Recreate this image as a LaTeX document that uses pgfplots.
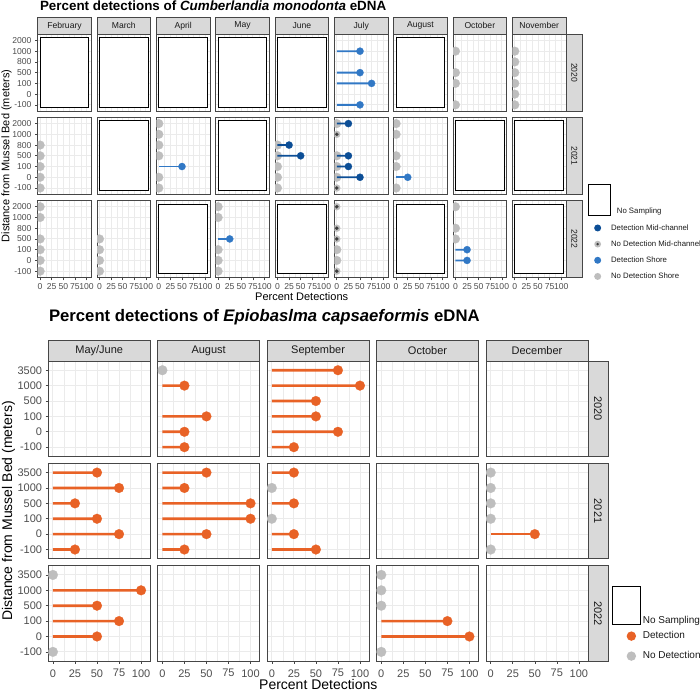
\documentclass[border=0pt]{standalone}
\usepackage{pgfplots}
\pgfplotsset{compat=1.18}
\usepackage{fontspec}
\setmainfont{Liberation Sans}
\definecolor{detS}{RGB}{49,120,197}
\definecolor{detM}{RGB}{12,78,150}
\definecolor{org}{RGB}{232,98,38}
\definecolor{ndg}{RGB}{190,190,190}
\definecolor{ndk}{RGB}{60,60,60}
\definecolor{gridc}{RGB}{235,235,235}
\definecolor{brd}{RGB}{70,70,70}
\definecolor{stripc}{RGB}{217,217,217}
\definecolor{tickc}{RGB}{77,77,77}
\definecolor{txt}{RGB}{26,26,26}

\pgfplotsset{
 facet/.style={scale only axis, anchor=north west, xmin=-5.25, xmax=110.25,
   xtick={0,25,50,75,100}, minor x tick num=1, grid=both,
   major grid style={gridc, line width=0.9pt}, minor grid style={gridc, line width=0.45pt},
   axis line style={brd, line width=0.8pt}, tick align=outside, xtick pos=bottom, ytick pos=left,
   major tick length=2.7pt, minor tick length=0pt, tick style={brd, line width=0.6pt},
   xticklabels={}, yticklabels={}, xtick style={draw=none}, ytick style={draw=none},
   tick label style={text=tickc}, /pgf/number format/assume math mode=true, clip marker paths=true},
 topax/.style={facet, width=53.6pt, height=77.3pt, ymin=0.4, ymax=7.6, ytick={1,...,7},
   tick label style={font=\fontsize{8.6}{9}\selectfont}},
 botax/.style={facet, width=101.8pt, height=95.4pt, ymin=0.4, ymax=6.6, ytick={1,...,6},
   tick label style={font=\fontsize{11}{12}\selectfont}, xticklabel style={yshift=-2pt}},
 tlx/.style={xticklabels={0,25,50,75,100}, xtick style={draw=brd}},
 tly/.style={yticklabels={-100,0,100,500,800,1000,2000}, ytick style={draw=brd}},
 blx/.style={xticklabels={0,25,50,75,100}, xtick style={draw=brd}},
 bly/.style={yticklabels={-100,0,100,500,1000,3500}, ytick style={draw=brd}},
 nds/.style={only marks, mark=*, mark size=4.4pt, ndg, mark options={line width=0.2pt}},
 ndmA/.style={only marks, mark=*, mark size=3.5pt, ndg, mark options={line width=0.2pt}},
 ndmB/.style={only marks, mark=*, mark size=1.7pt, ndk, mark options={line width=0.2pt}},
 stemT/.style={xbar, bar width=1.8pt, bar shift=0pt, draw=none, fill=#1, mark=none},
 stemB/.style={xbar, bar width=2.6pt, bar shift=0pt, draw=none, fill=#1, mark=none},
 dotT/.style={only marks, mark=*, mark size=3.6pt, #1, mark options={line width=0.2pt}},
 dotB/.style={only marks, mark=*, mark size=4.9pt, #1, mark options={line width=0.2pt}},
 ond/.style={only marks, mark=*, mark size=4.9pt, ndg, mark options={line width=0.2pt}},
}
% lollipops: stem (bar from 0) + dot, both from the same coordinates
\newcommand{\LT}[2]{\addplot[stemT=#1] coordinates {#2}; \addplot[dotT=#1] coordinates {#2};}
\newcommand{\LB}[1]{\addplot[stemB=org] coordinates {#1}; \addplot[dotB=org] coordinates {#1};}
\newcommand{\NS}{\draw[black, line width=0.9pt, fill=white] (axis cs:0,0.75) rectangle (axis cs:105,7.25);}
\newcommand{\TP}[4]{%
 \pgfmathsetmacro{\px}{37.7+#1*59.33}%
 \pgfmathsetmacro{\py}{657-#2*83.15}%
 \begin{axis}[topax, at={(\px pt,\py pt)}, #3]#4\end{axis}}
\newcommand{\BP}[4]{%
 \pgfmathsetmacro{\px}{48.3+#1*109.45}%
 \pgfmathsetmacro{\py}{330-#2*102.35}%
 \begin{axis}[botax, at={(\px pt,\py pt)}, #3]#4\end{axis}}

\begin{document}
\begin{tikzpicture}
\useasboundingbox (0,0) rectangle (700pt,691pt);

% ---------------- Top chart ----------------
\node[anchor=base west, font=\bfseries\fontsize{13.4}{15}\selectfont, text=black] at (36.5pt,680.7pt)
  {Percent detections of \textit{Cumberlandia monodonta} eDNA};

% Row 2020
\TP{0}{0}{tly}{\NS}
\TP{1}{0}{}{\NS}
\TP{2}{0}{}{\NS}
\TP{3}{0}{}{\NS}
\TP{4}{0}{}{\NS}
\TP{5}{0}{}{\LT{detS}{(50,6)(50,4)(75,3)(50,1)}}
\TP{6}{0}{}{\NS}
\TP{7}{0}{}{\addplot[nds] coordinates {(0,6)(0,4)(0,3)(0,1)};}
\TP{8}{0}{}{\addplot[nds] coordinates {(0,6)(0,5)(0,4)(0,3)(0,2)(0,1)};}
% Row 2021
\TP{0}{1}{tly}{\addplot[nds] coordinates {(0,5)(0,4)(0,3)(0,2)(0,1)};}
\TP{1}{1}{}{\NS}
\TP{2}{1}{}{\addplot[nds] coordinates {(0,7)(0,6)(0,5)(0,4)(0,2)(0,1)}; \LT{detS}{(50,3)}}
\TP{3}{1}{}{\NS}
\TP{4}{1}{}{\addplot[nds] coordinates {(0,5)(0,4)(0,3)(0,2)(0,1)}; \LT{detM}{(25,5)(50,4)}}
\TP{5}{1}{}{\addplot[nds] coordinates {(0,7)(0,4)(0,3)(0,2)}; \addplot[ndmA] coordinates {(0,6)(0,1)}; \addplot[ndmB] coordinates {(0,6)(0,1)}; \LT{detM}{(25,7)(25,4)(25,3)(50,2)}}
\TP{6}{1}{}{\addplot[nds] coordinates {(0,7)(0,6)(0,4)(0,3)(0,1)}; \LT{detS}{(25,2)}}
\TP{7}{1}{}{\NS}
\TP{8}{1}{}{\NS}
% Row 2022
\TP{0}{2}{tly,tlx}{\addplot[nds] coordinates {(0,7)(0,6)(0,4)(0,3)(0,2)(0,1)};}
\TP{1}{2}{tlx}{\addplot[nds] coordinates {(0,4)(0,3)(0,2)(0,1)};}
\TP{2}{2}{tlx}{\NS}
\TP{3}{2}{tlx}{\addplot[nds] coordinates {(0,7)(0,6)(0,3)(0,2)(0,1)}; \LT{detS}{(25,4)}}
\TP{4}{2}{tlx}{\NS}
\TP{5}{2}{tlx}{\addplot[nds] coordinates {(0,3)(0,2)}; \addplot[ndmA] coordinates {(0,7)(0,5)(0,4)(0,1)}; \addplot[ndmB] coordinates {(0,7)(0,5)(0,4)(0,1)};}
\TP{6}{2}{tlx}{\NS}
\TP{7}{2}{tlx}{\addplot[nds] coordinates {(0,7)(0,5)(0,4)}; \LT{detS}{(25,3)(25,2)}}
\TP{8}{2}{tlx}{\NS}

% top strips
\foreach \i/\n in {0/February,1/March,2/April,3/May,4/June,5/July,6/August,7/October,8/November}{
  \pgfmathsetmacro{\sx}{37.7+\i*59.33}
  \draw[brd, fill=stripc, line width=0.8pt] (\sx pt,657pt) rectangle ++(53.6pt,16.3pt);
  \node[font=\fontsize{8.6}{9}\selectfont, text=txt] at ({\sx pt+26.8pt},665.15pt) {\n};
}
\foreach \r/\n in {0/2020,1/2021,2/2022}{
  \pgfmathsetmacro{\sy}{657-\r*83.15}
  \draw[brd, fill=stripc, line width=0.8pt] (565.9pt,\sy pt) rectangle ++(16.8pt,-77.3pt);
  \node[rotate=-90, font=\fontsize{8.6}{9}\selectfont, text=txt] at (574.3pt,{\sy pt-38.65pt}) {\n};
}
\node[font=\fontsize{11}{12}\selectfont, text=black] at (301.7pt,394pt) {Percent Detections};
\node[rotate=90, font=\fontsize{11}{12}\selectfont, text=black] at (6.5pt,535pt) {Distance from Mussel Bed (meters)};

% ---------------- Bottom chart ----------------
\node[anchor=base west, font=\bfseries\fontsize{16.7}{19}\selectfont, text=black] at (45.5pt,369.3pt)
  {Percent detections of \textit{Epiobaslma capsaeformis} eDNA};

\BP{0}{0}{bly}{}
\BP{1}{0}{}{\addplot[ond] coordinates {(0,6)}; \LB{(25,5)(50,3)(25,2)(25,1)}}
\BP{2}{0}{}{\LB{(75,6)(100,5)(50,4)(50,3)(75,2)(25,1)}}
\BP{3}{0}{}{}
\BP{4}{0}{}{}
\BP{0}{1}{bly}{\LB{(50,6)(75,5)(25,4)(50,3)(75,2)(25,1)}}
\BP{1}{1}{}{\LB{(50,6)(25,5)(100,4)(100,3)(50,2)(25,1)}}
\BP{2}{1}{}{\addplot[ond] coordinates {(0,5)(0,3)}; \LB{(25,6)(25,4)(25,2)(50,1)}}
\BP{3}{1}{}{}
\BP{4}{1}{}{\addplot[ond] coordinates {(0,6)(0,5)(0,4)(0,3)(0,1)}; \LB{(50,2)}}
\BP{0}{2}{bly,blx}{\addplot[ond] coordinates {(0,6)(0,1)}; \LB{(100,5)(50,4)(75,3)(50,2)}}
\BP{1}{2}{blx}{}
\BP{2}{2}{blx}{}
\BP{3}{2}{blx}{\addplot[ond] coordinates {(0,6)(0,5)(0,4)(0,1)}; \LB{(75,3)(100,2)}}
\BP{4}{2}{blx}{}

\foreach \i/\n in {0/May\slash June,1/August,2/September,3/October,4/December}{
  \pgfmathsetmacro{\sx}{48.3+\i*109.45}
  \draw[brd, fill=stripc, line width=0.8pt] (\sx pt,330pt) rectangle ++(101.8pt,21pt);
  \node[font=\fontsize{11}{12}\selectfont, text=txt] at ({\sx pt+50.9pt},340.5pt) {\n};
}
\foreach \r/\n in {0/2020,1/2021,2/2022}{
  \pgfmathsetmacro{\sy}{330-\r*102.35}
  \draw[brd, fill=stripc, line width=0.8pt] (587.9pt,\sy pt) rectangle ++(20pt,-95.4pt);
  \node[rotate=-90, font=\fontsize{11}{12}\selectfont, text=txt] at (597.9pt,{\sy pt-47.7pt}) {\n};
}
\node[font=\fontsize{14}{15}\selectfont, text=black, inner sep=0pt] at (318.3pt,6.9pt) {Percent Detections};
\node[rotate=90, font=\fontsize{14}{15}\selectfont, text=black] at (8.5pt,180pt) {Distance from Mussel Bed (meters)};

% ---------------- Legends ----------------
\begin{axis}[hide axis, scale only axis, width=700pt, height=691pt, at={(0pt,0pt)}, anchor=south west,
  xmin=0, xmax=1, ymin=0, ymax=1,
  legend cell align=left,
  legend style={at={(587.7/700,506.7/691)}, anchor=north west, draw=none, fill=none, inner sep=0pt,
    row sep=9pt, column sep=0pt, nodes={inner sep=0pt, font=\fontsize{7.8}{9}\selectfont, text=txt}}]
\addlegendimage{legend image code/.code={\draw[black,line width=0.9pt,fill=white] (0pt,-3.3pt) rectangle (22.3pt,26.7pt);
   \node[overlay, anchor=west, inner sep=0pt, font=\fontsize{7.8}{9}\selectfont, text=txt] at (28.3pt,0pt) {No Sampling};}}
\addlegendentry{}
\addlegendimage{legend image code/.code={\fill[detM, draw=none] (9.3pt,0pt) circle (3.5pt); \path[draw=none] (0pt,0pt) -- (21.3pt,0pt);}}
\addlegendentry{Detection Mid-channel}
\addlegendimage{legend image code/.code={\fill[ndg, draw=none] (9.3pt,0pt) circle (3.4pt); \fill[ndk, draw=none] (9.3pt,0pt) circle (1.3pt); \path[draw=none] (0pt,0pt) -- (21.3pt,0pt);}}
\addlegendentry{No Detection Mid-channel}
\addlegendimage{legend image code/.code={\fill[detS, draw=none] (9.3pt,0pt) circle (3.5pt); \path[draw=none] (0pt,0pt) -- (21.3pt,0pt);}}
\addlegendentry{Detection Shore}
\addlegendimage{legend image code/.code={\fill[ndg, draw=none] (9.3pt,0pt) circle (3.5pt); \path[draw=none] (0pt,0pt) -- (21.3pt,0pt);}}
\addlegendentry{No Detection Shore}
\end{axis}

\begin{axis}[hide axis, scale only axis, width=700pt, height=691pt, at={(0pt,0pt)}, anchor=south west,
  xmin=0, xmax=1, ymin=0, ymax=1,
  legend cell align=left,
  legend style={at={(611.7/700,105/691)}, anchor=north west, draw=none, fill=none, inner sep=0pt,
    row sep=6.3pt, column sep=2.4pt, nodes={inner sep=0pt, font=\fontsize{10}{11}\selectfont, text=txt}}]
\addlegendimage{legend image code/.code={\draw[black,line width=0.9pt,fill=white] (0pt,-4.5pt) rectangle (27.6pt,33.5pt);}}
\addlegendentry{No Sampling}
\addlegendimage{legend image code/.code={\fill[org, draw=none] (19pt,0pt) circle (4.7pt); \path[draw=none] (0pt,-9pt) -- (27.6pt,0pt);}}
\addlegendentry{Detection}
\addlegendimage{legend image code/.code={\fill[ndg, draw=none] (19pt,0pt) circle (4.7pt); \path[draw=none] (0pt,0pt) -- (27.6pt,0pt);}}
\addlegendentry{No Detection}
\end{axis}
\end{tikzpicture}
\end{document}
